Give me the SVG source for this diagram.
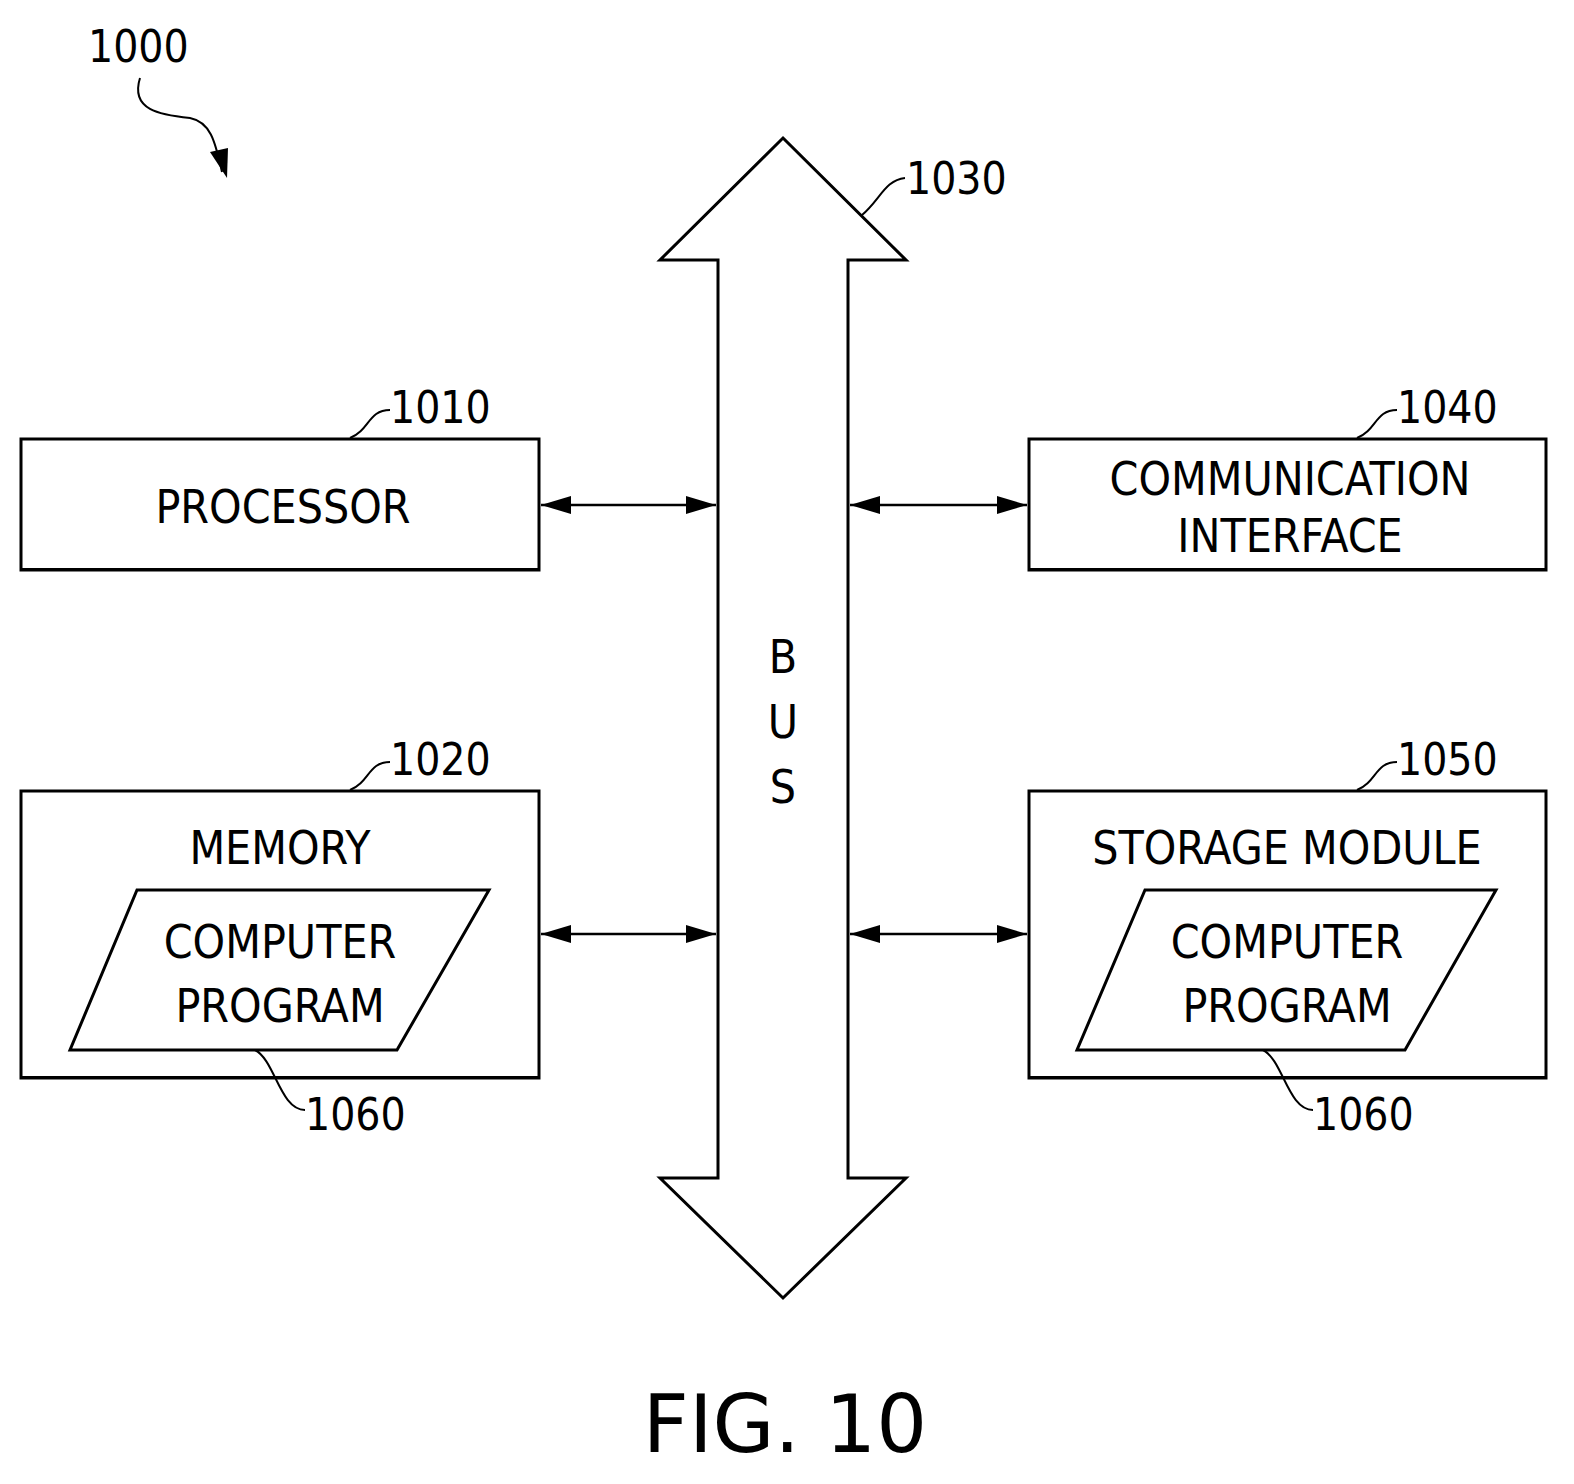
<svg xmlns="http://www.w3.org/2000/svg" width="1574" height="1484" viewBox="0 0 1574 1484">
<style>
text{font-family:"DejaVu Sans Condensed","DejaVu Sans",sans-serif;fill:#000}
.t{font-size:46px;text-anchor:middle}
.n{font-size:44px}
.b{fill:#fff;stroke:#000;stroke-width:3}
.l{fill:none;stroke:#000;stroke-width:2}
.a{stroke:#000;stroke-width:2.5}
</style>
<defs>
<marker id="h2" viewBox="0 0 10 10" refX="10" refY="5" markerWidth="30" markerHeight="18" markerUnits="userSpaceOnUse" orient="auto-start-reverse" preserveAspectRatio="none"><path d="M0,0L10,5L0,10z"/></marker></defs>
<rect width="1574" height="1484" fill="#fff"/>
<g id="label1000"><text class="n" x="88" y="62">1000</text><path class="l" d="M140,78C130,110 160,115 190,118C210,122 215,140 222,172"/><path d="M210,152L227,178L228,148z"/></g>
<g id="bus"><path class="b" d="M783,138L906,260L848,260L848,1178L906,1178L783,1298L660,1178L718,1178L718,260L660,260z"/>
<text class="t" x="783" y="673">B</text><text class="t" x="783" y="738">U</text><text class="t" x="783" y="803">S</text>
<text class="n" x="906" y="194">1030</text><path class="l" d="M862,215C880,200 885,180 905,178"/></g>
<g id="processor"><rect class="b" x="21" y="439" width="518" height="131"/><path class="l" stroke-width="4" d="M21,569H539V439"/><text class="t" x="283" y="523">PROCESSOR</text>
<text class="n" x="390" y="423">1010</text><path class="l" d="M350,438C370,430 368,410 390,410"/></g>
<g id="comm"><rect class="b" x="1029" y="439" width="517" height="131"/><path class="l" stroke-width="4" d="M1029,569H1546V439"/><text class="t" x="1290" y="495">COMMUNICATION</text><text class="t" x="1290" y="552">INTERFACE</text>
<text class="n" x="1397" y="423">1040</text><path class="l" d="M1357,438C1377,430 1375,410 1397,410"/></g>
<g id="memory"><rect class="b" x="21" y="791" width="518" height="287"/><path class="l" stroke-width="4" d="M21,1077H539V791"/><text class="t" x="280" y="864">MEMORY</text>
<path class="b" d="M137,890H489L397,1050H70z"/><text class="t" x="280" y="958">COMPUTER</text><text class="t" x="280" y="1022">PROGRAM</text>
<text class="n" x="390" y="775">1020</text><path class="l" d="M350,790C370,782 368,762 390,762"/>
<text class="n" x="305" y="1130">1060</text><path class="l" d="M255,1050C275,1060 280,1110 305,1110"/></g>
<g id="storage"><rect class="b" x="1029" y="791" width="517" height="287"/><path class="l" stroke-width="4" d="M1029,1077H1546V791"/><text class="t" x="1287" y="864">STORAGE MODULE</text>
<path class="b" d="M1145,890H1496L1405,1050H1077z"/><text class="t" x="1287" y="958">COMPUTER</text><text class="t" x="1287" y="1022">PROGRAM</text>
<text class="n" x="1397" y="775">1050</text><path class="l" d="M1357,790C1377,782 1375,762 1397,762"/>
<text class="n" x="1313" y="1130">1060</text><path class="l" d="M1263,1050C1283,1060 1288,1110 1313,1110"/></g>
<g id="connectors">
<line class="a" x1="541" y1="505" x2="716" y2="505" style="marker-start:url(#h2);marker-end:url(#h2)"/>
<line class="a" x1="850" y1="505" x2="1027" y2="505" style="marker-start:url(#h2);marker-end:url(#h2)"/>
<line class="a" x1="541" y1="934" x2="716" y2="934" style="marker-start:url(#h2);marker-end:url(#h2)"/>
<line class="a" x1="850" y1="934" x2="1027" y2="934" style="marker-start:url(#h2);marker-end:url(#h2)"/>
</g>
<text x="785" y="1452" style="font-family:'DejaVu Sans',sans-serif;font-size:80px;text-anchor:middle">FIG. 10</text>
</svg>
